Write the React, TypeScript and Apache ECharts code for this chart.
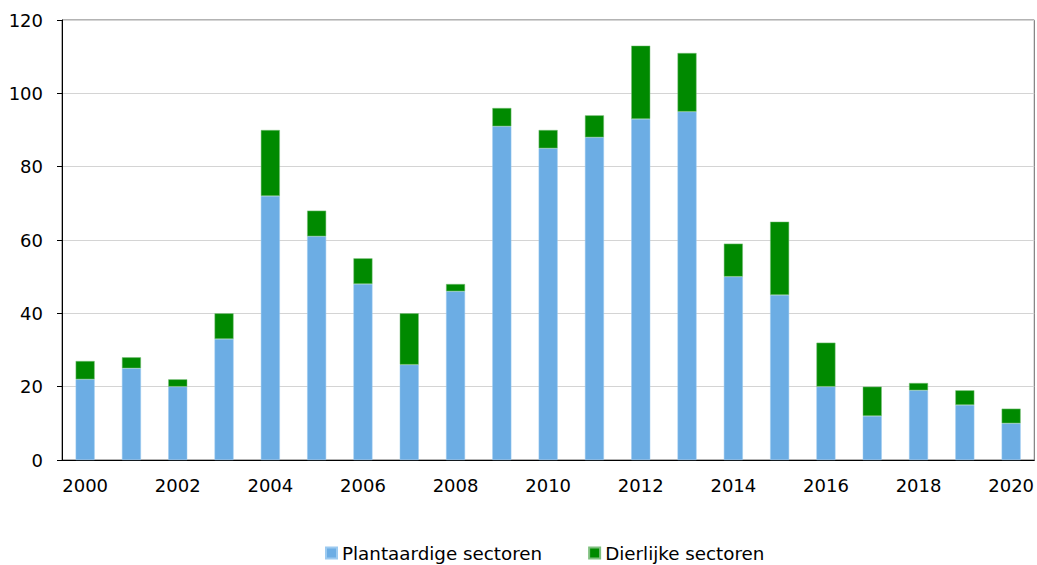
import React, { useEffect, useRef } from "react";
import * as echarts from "echarts";

const years = ["2000","2001","2002","2003","2004","2005","2006","2007","2008","2009","2010","2011","2012","2013","2014","2015","2016","2017","2018","2019","2020"];
const plantaardig = [22,25,20,33,72,61,48,26,46,91,85,88,93,95,50,45,20,12,19,15,10];
const dierlijk = [5,3,2,7,18,7,7,14,2,5,5,6,20,16,9,20,12,8,2,4,4];
const yTicks = { min: 0, max: 120, interval: 20 };

const FONT = "'DejaVu Sans', Verdana, sans-serif";
const FS = 18;

export default function App() {
  const ref = useRef<HTMLDivElement>(null);
  useEffect(() => {
    document.body.style.margin = "0";
    const chart = echarts.init(ref.current!, null, { renderer: "svg" });
    chart.setOption({
      animation: false,
      textStyle: { fontFamily: FONT },
      grid: { left: 62, right: 1, top: 20, bottom: 105, show: true, borderColor: "#666", borderWidth: 1, backgroundColor: "transparent" },
      legend: {
        top: 544,
        left: 325,
        itemWidth: 11,
        itemHeight: 11,
        itemGap: 46,
        icon: "rect",
        padding: 0,
        textStyle: { fontFamily: FONT, fontSize: 18.3, color: "#000" },
        data: ["Plantaardige sectoren", "Dierlijke sectoren"],
      },
      xAxis: {
        type: "category",
        data: years,
        boundaryGap: true,
        axisLine: { lineStyle: { color: "#000", width: 1 } },
        axisTick: { interval: 0, length: 5, lineStyle: { color: "#000" } },
        axisLabel: { interval: 1, color: "#000", fontSize: FS, fontFamily: FONT, margin: 16 },
      },
      yAxis: {
        type: "value",
        min: yTicks.min,
        max: yTicks.max,
        interval: yTicks.interval,
        axisLine: { show: true, lineStyle: { color: "#000", width: 1 } },
        axisTick: { show: true, length: 5, lineStyle: { color: "#000" } },
        axisLabel: { color: "#000", fontSize: FS, fontFamily: FONT, margin: 19 },
        splitLine: { lineStyle: { color: "#d4d4d4", width: 1 } },
      },
      series: [
        {
          name: "Plantaardige sectoren",
          type: "bar",
          stack: "total",
          data: plantaardig,
          barWidth: 19,
          itemStyle: { color: "#6cade4", borderColor: "#9ccaf0", borderWidth: 0.5 },
        },
        {
          name: "Dierlijke sectoren",
          type: "bar",
          stack: "total",
          data: dierlijk,
          barWidth: 19,
          itemStyle: { color: "#008a00", borderColor: "#7fc07f", borderWidth: 0.5 },
        },
      ],
    });
    return () => chart.dispose();
  }, []);
  return <div ref={ref} style={{ width: 1037, height: 565 }} />;
}
